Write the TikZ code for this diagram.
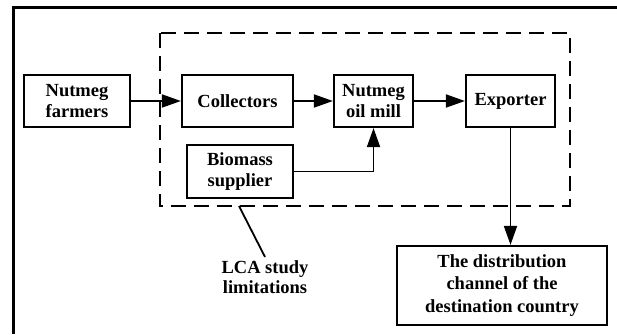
\documentclass[tikz,border=0pt]{standalone}
\usepackage{fontspec}
\setmainfont{Liberation Serif}
\usetikzlibrary{arrows.meta}
\tikzset{
  box/.style={shape=rectangle, draw=black, line width=2.2pt, align=center,
    font=\fontsize{18.5}{21}\selectfont\bfseries, inner sep=2pt},
  flow/.style={line width=1.8pt, -{Triangle[length=19pt,width=13pt]}}
}
\begin{document}
\begin{tikzpicture}[x=1pt, y=-1pt]
    \useasboundingbox (0,0) rectangle (617,334);
    \draw[line width=3pt] (13.5,334) -- (13.5,8) -- (617,8);
    \draw[line width=2.6pt, dash pattern=on 15pt off 8pt] (160,33) rectangle (570,206);
    \node[box, minimum width=106pt, minimum height=52pt] at (77,101) (F) {Nutmeg\\farmers};
    \node[box, minimum width=111pt, minimum height=52pt] at (237.5,101) (C) {Collectors};
    \node[box, minimum width=79pt, minimum height=52pt] at (373.5,101) (M) {Nutmeg\\oil mill};
    \node[box, minimum width=89pt, minimum height=52pt] at (510.5,101) (E) {Exporter};
    \node[box, minimum width=106pt, minimum height=53pt] at (240,171.5) (B) {Biomass\\supplier};
    \node[box, minimum width=210pt, minimum height=79pt, font=\fontsize{18.5}{22.5}\selectfont\bfseries] at (502,285.5) (D) {The distribution\\channel of the\\destination country};
    \node[align=center, font=\fontsize{18.5}{20}\selectfont\bfseries] at (265,277) (L) {LCA study\\limitations};
    \coordinate (Lim) at (239,206);
    \draw [flow] (F) -- (C);
    \draw [flow] (C) -- (M);
    \draw [flow] (M) -- (E);
    \draw [flow] (B.east) -| (M.south);
    \draw [flow] (E.south) -- (E.south |- D.north);
    \draw [line width=1.8pt] (Lim) -- (L.north);
\end{tikzpicture}
\end{document}
